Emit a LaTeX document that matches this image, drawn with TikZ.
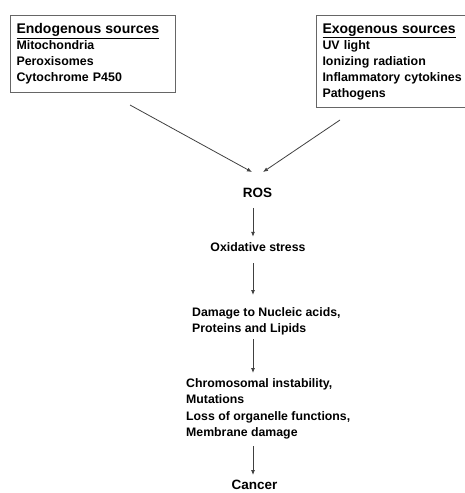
\documentclass[tikz,border=0pt]{standalone}
\usepackage{fontspec}
\setmainfont{Liberation Sans}
\usetikzlibrary{positioning,arrows.meta}

\newcommand{\srchead}[1]{{\fontsize{14}{16}\selectfont\underline{#1}}}

\begin{document}
\begin{tikzpicture}
    [x=1pt,y=-1pt,
     srcbox/.style ={draw=black!60,line width=1pt,anchor=north west,align=left,inner xsep=6pt,inner ysep=8pt,font=\bfseries\fontsize{12.4}{16}\selectfont},
     flow/.style ={inner sep=0pt,font=\bfseries\fontsize{12.3}{16.5}\selectfont,align=left},
     arr/.style ={draw=black!75,line width=0.8pt,-{Latex[length=5pt,width=4pt]}}]
    \useasboundingbox (0,0) rectangle (464,493);
    \node[srcbox,text width=153pt] (endo) at (10,15) {\srchead{Endogenous sources}\\Mitochondria\\Peroxisomes\\Cytochrome P450};
    \node[srcbox,text width=160pt] (exo) at (316,15) {\srchead{Exogenous sources}\\UV light\\Ionizing radiation\\Inflammatory cytokines\\Pathogens};
    \node[flow,font=\bfseries\fontsize{13.5}{16}\selectfont] (ros) at (257.5,193) {ROS};
    \node[flow] (ox) at (258,247.5) {Oxidative stress};
    \node[flow,anchor=north west] (dam) at (192,307) {Damage to Nucleic acids,\\Proteins and Lipids};
    \node[flow,anchor=north west] (chrom) at (186,378) {Chromosomal instability,\\Mutations\\Loss of organelle functions,\\Membrane damage};
    \node[flow,font=\bfseries\fontsize{13.5}{16}\selectfont] (cancer) at (254.5,485) {Cancer};
    \coordinate (spine) at (253,0);
    \coordinate (endoout) at (130,105);
    \coordinate (exoout) at (340,120);
    % sources to ROS
    \draw[arr] (endoout) -- ([shift={(-5.5pt,16pt)}]ros.north);
    \draw[arr] (exoout) -- ([shift={(5.5pt,16pt)}]ros.north);
    % cascade
    \draw[arr,shorten <=10pt,shorten >=6pt] (ros.south -| spine) -- (ox.north -| spine);
    \draw[arr,shorten <=11pt,shorten >=12pt] (ox.south -| spine) -- (dam.north -| spine);
    \draw[arr,shorten <=4pt,shorten >=5pt] (dam.south -| spine) -- (chrom.north -| spine);
    \draw[arr,shorten <=7pt,shorten >=5pt] (chrom.south -| spine) -- (cancer.north -| spine);
\end{tikzpicture}
\end{document}
